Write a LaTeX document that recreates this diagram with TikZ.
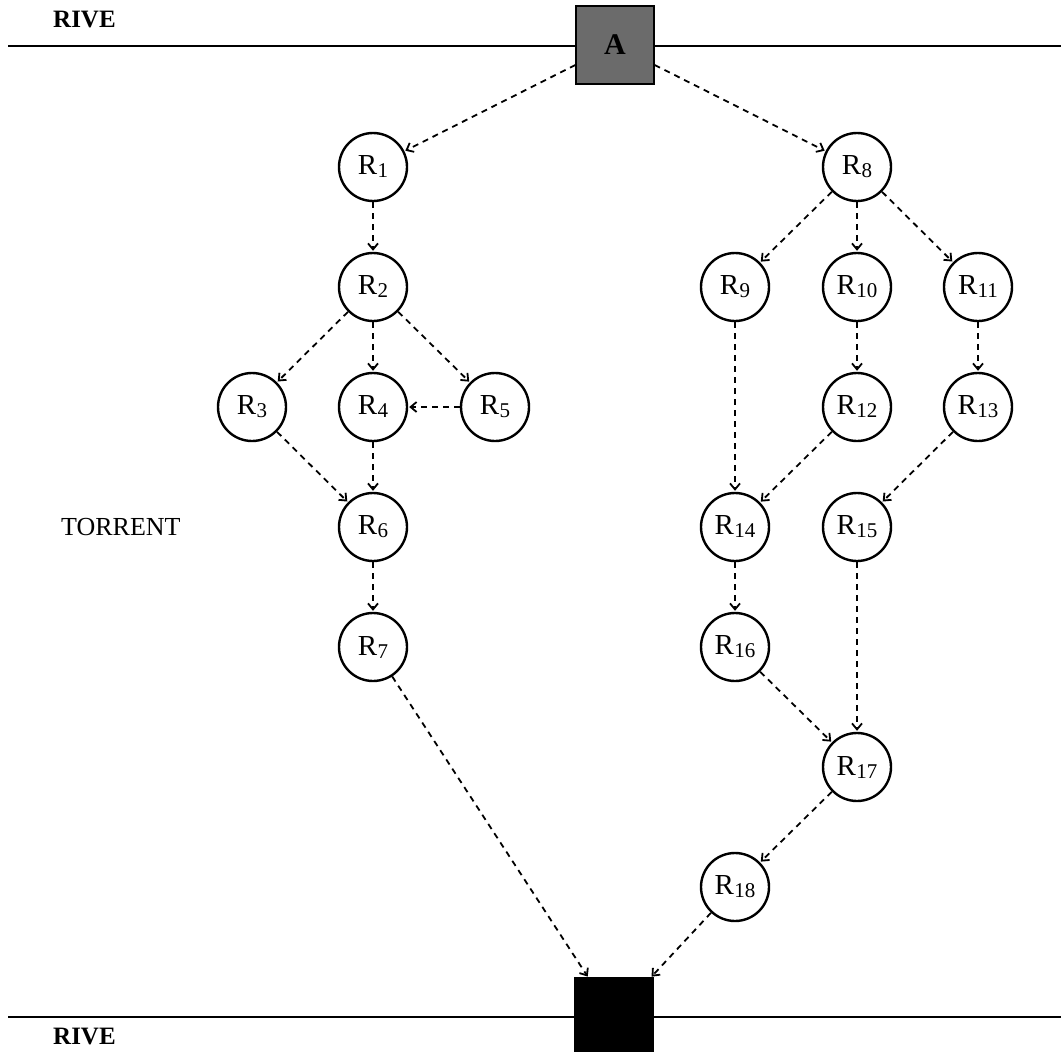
\documentclass[tikz,border=0pt]{standalone}
\usepackage{fontspec}
\setmainfont{Liberation Serif}
\usetikzlibrary{arrows.meta}
\newcommand{\rlab}[1]{R\kern0.3pt\raisebox{-3pt}{\fontsize{21}{21}\selectfont #1}}
\tikzset{
  rnode/.style={circle, draw, line width=2.4pt, minimum size=68pt, inner sep=0pt, font=\fontsize{29}{29}\selectfont},
  link/.style={line width=1.8pt, dash pattern=on 6pt off 5pt, -{Straight Barb[length=6pt,width=10pt,line width=1.8pt]}, shorten >=1pt},
  bank/.style={line width=2pt},
  lbl/.style={font=\fontsize{25}{25}\selectfont\bfseries, inner sep=0pt}
}
\begin{document}
\begin{tikzpicture}[x=1pt,y=-1pt]
\useasboundingbox (0,0) rectangle (1061,1052);
% banks
\coordinate (tl) at (8,46);
\coordinate (tr) at (1061,46);
\coordinate (bl) at (8,1017);
\coordinate (br) at (1061,1017);
\draw[bank] (tl) -- (tr);
\draw[bank] (bl) -- (br);
\node[lbl, anchor=west] (rive1) at (53,20) {RIVE};
\node[anchor=west, inner sep=0pt, font=\fontsize{26}{26}\selectfont] (torrent) at (61,527) {TORRENT};
\node[lbl, anchor=west] (rive2) at (53,1036) {RIVE};
% boxes
\node[draw=black, fill=black!58, line width=1.2pt, minimum size=78pt, inner sep=0pt, font=\fontsize{30}{30}\selectfont\bfseries] (A) at (615,45) {A};
\node[draw=black, fill=black, line width=1.2pt, minimum width=78pt, minimum height=78pt, inner sep=0pt] (B) at (614,1017) {};
% nodes
\node[rnode] (R1) at (373,167) {\rlab{1}};
\node[rnode] (R2) at (373,287) {\rlab{2}};
\node[rnode] (R3) at (252,407) {\rlab{3}};
\node[rnode] (R4) at (373,407) {\rlab{4}};
\node[rnode] (R5) at (495,407) {\rlab{5}};
\node[rnode] (R6) at (373,527) {\rlab{6}};
\node[rnode] (R7) at (373,647) {\rlab{7}};
\node[rnode] (R8) at (857,167) {\rlab{8}};
\node[rnode] (R9) at (735,287) {\rlab{9}};
\node[rnode] (R10) at (857,287) {\rlab{10}};
\node[rnode] (R11) at (978,287) {\rlab{11}};
\node[rnode] (R12) at (857,407) {\rlab{12}};
\node[rnode] (R13) at (978,407) {\rlab{13}};
\node[rnode] (R14) at (735,527) {\rlab{14}};
\node[rnode] (R15) at (857,527) {\rlab{15}};
\node[rnode] (R16) at (735,647) {\rlab{16}};
\node[rnode] (R17) at (857,767) {\rlab{17}};
\node[rnode] (R18) at (735,887) {\rlab{18}};
% links
\draw[link] (A) -- (R1);
\draw[link] (A) -- (R8);
\draw[link] (R1) -- (R2);
\draw[link] (R2) -- (R3);
\draw[link] (R2) -- (R4);
\draw[link] (R2) -- (R5);
\draw[link] (R5) -- (R4);
\draw[link] (R3) -- (R6);
\draw[link] (R4) -- (R6);
\draw[link] (R6) -- (R7);
\draw[link] (R7) -- (B);
\draw[link] (R8) -- (R9);
\draw[link] (R8) -- (R10);
\draw[link] (R8) -- (R11);
\draw[link] (R10) -- (R12);
\draw[link] (R11) -- (R13);
\draw[link] (R9) -- (R14);
\draw[link] (R12) -- (R14);
\draw[link] (R13) -- (R15);
\draw[link] (R14) -- (R16);
\draw[link] (R16) -- (R17);
\draw[link] (R15) -- (R17);
\draw[link] (R17) -- (R18);
\draw[link] (R18) -- (B);
\end{tikzpicture}
\end{document}
